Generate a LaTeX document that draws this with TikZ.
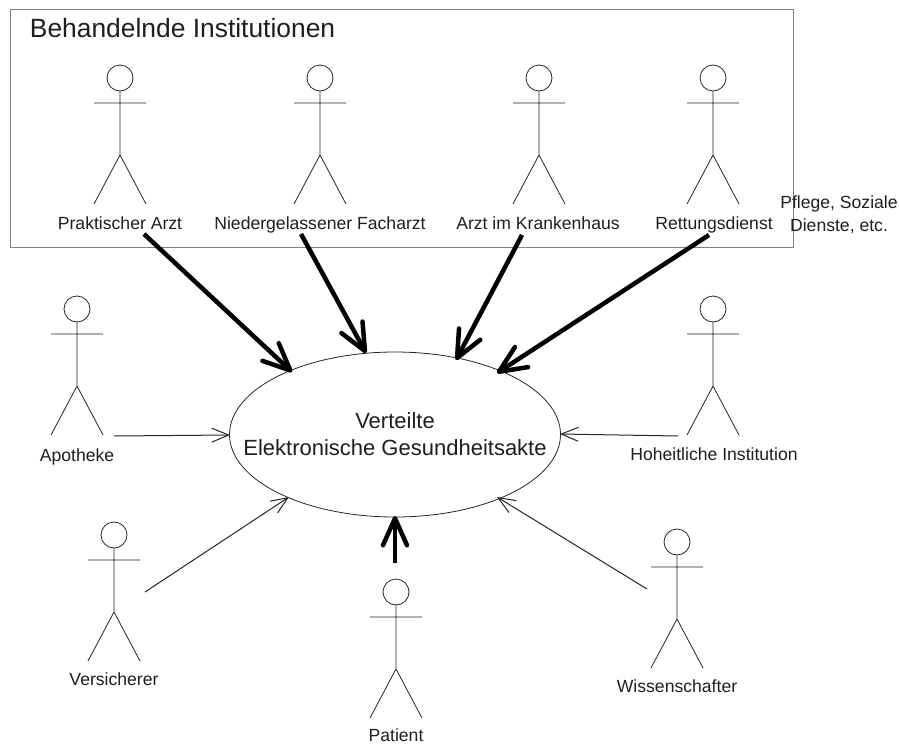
\documentclass[tikz,border=0pt]{standalone}
\usepackage{fontspec}
\setmainfont{Liberation Sans}
\usetikzlibrary{arrows.meta,shapes.geometric}
\begin{document}
\begin{tikzpicture}[x=1pt,y=-1pt,line width=0.8pt,draw=black!85,
 lbl/.style={font=\fontsize{17.6}{23}\selectfont,inner sep=0pt,text=black!88,anchor=base},
 thickarrow/.style={draw=black,line width=4.5pt,-{Straight Barb[round,length=27pt,width=24pt,line width=4.5pt]}},
 thinarrow/.style={line width=1pt,-{Straight Barb[length=17pt,width=14pt,line width=1pt]}},
 actorhead/.style={circle,draw,minimum size=26pt,inner sep=0pt}]
\useasboundingbox (0,0) rectangle (899,744);
\fill[white] (0,0) rectangle (899,744);
\def\stick#1#2#3{%
 \node[actorhead] (#1h) at (#2,#3) {};
 \draw (#1h.south) -- (#2,#3+77) -- (#2-26,#3+126) (#2,#3+77) -- (#2+26,#3+126) (#2-26,#3+25) -- (#2+26,#3+25);
}
\node[draw=black!50,line width=1pt,minimum width=783pt,minimum height=238pt,inner sep=0pt] (box) at (401.5,128) {};
\node[font=\fontsize{26.4}{28}\selectfont,inner sep=0pt,anchor=west,text=black!88] (title) at (29.5,28) {Behandelnde Institutionen};
\stick{a}{120}{78}\stick{b}{320}{78}\stick{c}{539}{78}\stick{d}{713}{78}
\stick{e}{77}{309}\stick{f}{713}{309}\stick{g}{114}{535}\stick{h}{396}{592}\stick{i}{677}{542}
\node[lbl] (la) at (120,229) {Praktischer Arzt};
\node[lbl] (lb) at (320,229) {Niedergelassener Facharzt};
\node[lbl] (lc) at (538,229) {Arzt im Krankenhaus};
\node[lbl] (ld) at (714,229) {Rettungsdienst};
\node[lbl,align=center,anchor=center] (lx) at (839,215) {Pflege, Soziale\\Dienste, etc.};
\node[lbl] (le) at (77,461) {Apotheke};
\node[lbl] (lf) at (714,460) {Hoheitliche Institution};
\node[lbl] (lg) at (114,685) {Versicherer};
\node[lbl] (lh) at (396,741) {Patient};
\node[lbl] (li) at (677,692) {Wissenschafter};
\node[draw,ellipse,minimum width=331pt,minimum height=165pt,inner sep=0pt,line width=0.8pt] (eg) at (395,434.5) {};
\node[align=center,inner sep=0pt,font=\fontsize{22}{27}\selectfont,text=black!88] (egtext) at (eg.center) {Verteilte\\Elektronische Gesundheitsakte};
\coordinate (s1) at (144,234);\coordinate (t1) at (292,372);
\coordinate (s2) at (301,234);\coordinate (t2) at (366,353);
\coordinate (s3) at (522,235);\coordinate (t3) at (456,360);
\coordinate (s4) at (709,235);\coordinate (t4) at (497,373);
\coordinate (s5) at (114,436);\coordinate (t5) at (230,435);
\coordinate (s6) at (678,436);\coordinate (t6) at (560,434);
\coordinate (s7) at (145,592);\coordinate (t7) at (289,497);
\coordinate (s8) at (395,563);\coordinate (t8) at (395,516);
\coordinate (s9) at (647,589);\coordinate (t9) at (497,497);
\draw[thickarrow] (s1)--(t1);\draw[thickarrow] (s2)--(t2);\draw[thickarrow] (s3)--(t3);\draw[thickarrow] (s4)--(t4);\draw[thickarrow] (s8)--(t8);
\draw[thinarrow] (s5)--(t5);\draw[thinarrow] (s6)--(t6);\draw[thinarrow] (s7)--(t7);\draw[thinarrow] (s9)--(t9);
\end{tikzpicture}
\end{document}
